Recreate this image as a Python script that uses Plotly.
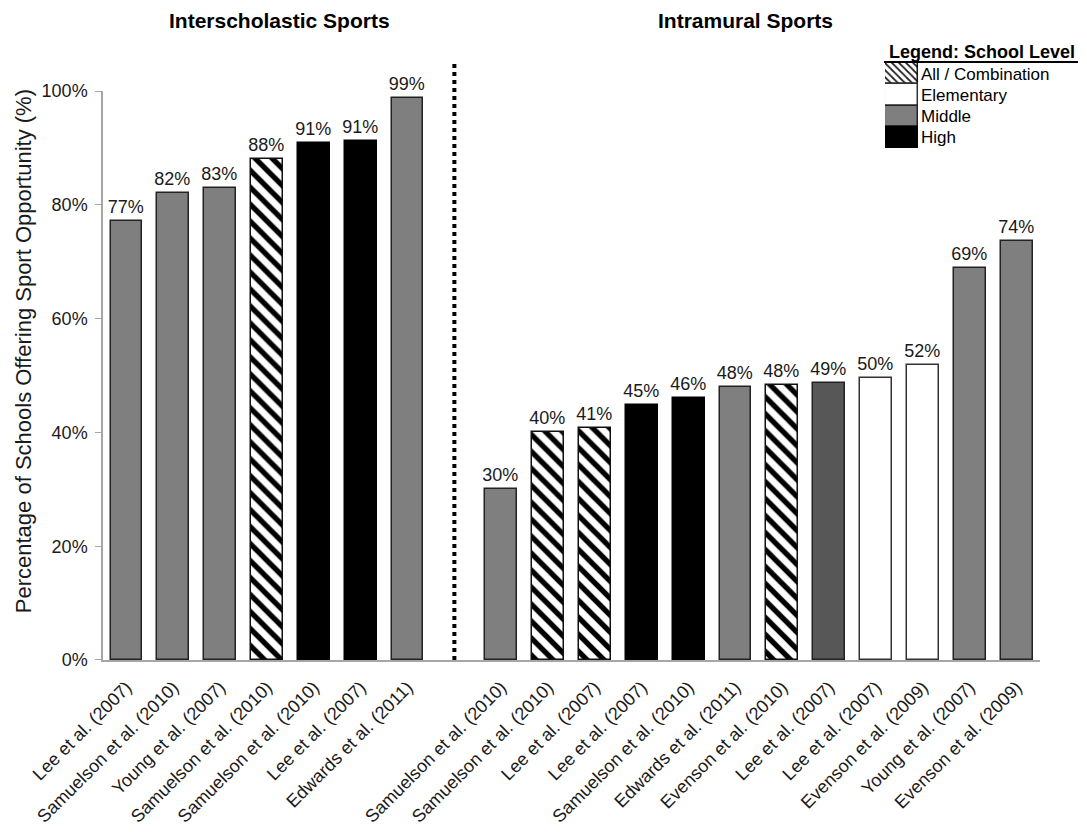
import plotly.graph_objects as go

# Interscholastic sports (left group)
inter_labels = ["Lee et al. (2007)", "Samuelson et al. (2010)", "Young et al. (2007)",
                "Samuelson et al. (2010)", "Samuelson et al. (2010)", "Lee et al. (2007)",
                "Edwards et al. (2011)"]
inter_values = [77.1, 82.1, 83.0, 88.0, 90.9, 91.2, 98.7]
inter_levels = ["Middle", "Middle", "Middle", "All", "High", "High", "Middle"]

# Intramural sports (right group)
intra_labels = ["Samuelson et al. (2010)", "Samuelson et al. (2010)", "Lee et al. (2007)",
                "Lee et al. (2007)", "Samuelson et al. (2010)", "Edwards et al. (2011)",
                "Evenson et al. (2010)", "Lee et al. (2007)", "Lee et al. (2007)",
                "Evenson et al. (2009)", "Young et al. (2007)", "Evenson et al. (2009)"]
intra_values = [30.0, 40.0, 40.8, 44.8, 46.0, 47.9, 48.3, 48.6, 49.5, 51.9, 68.9, 73.7]
intra_levels = ["Middle", "All", "All", "High", "High", "Middle", "All", "HighDark",
                "Elementary", "Elementary", "Middle", "Middle"]

legend_levels = ["All", "Elementary", "Middle", "High"]
legend_names = ["All / Combination", "Elementary", "Middle", "High"]

y_ticks = [0, 20, 40, 60, 80, 100]
y_tick_text = ["0%", "20%", "40%", "60%", "80%", "100%"]

style = {
    "All": dict(color="white", line=dict(color="#111111", width=1.5),
                pattern=dict(shape="\\", fgcolor="black", bgcolor="white", fgopacity=1,
                             size=12, solidity=0.45)),
    "Elementary": dict(color="white", line=dict(color="#333333", width=1.5)),
    "Middle": dict(color="#7f7f7f", line=dict(color="#222222", width=1.5)),
    "High": dict(color="#000000", line=dict(color="#000000", width=1.5)),
    "HighDark": dict(color="#575757", line=dict(color="#222222", width=1.5)),
}

# slot positions: left group, one empty slot for the divider, then right group
n_left = len(inter_labels)
divider_pos = n_left
left_pos = list(range(n_left))
right_pos = [n_left + 1 + i for i in range(len(intra_labels))]

positions = left_pos + right_pos
labels = inter_labels + intra_labels
values = inter_values + intra_values
levels = inter_levels + intra_levels

font_family = "Liberation Sans, Arial, sans-serif"

fig = go.Figure()

for lvl in style:
    xs = [p for p, l in zip(positions, levels) if l == lvl]
    ys = [v for v, l in zip(values, levels) if l == lvl]
    if not xs:
        continue
    fig.add_trace(go.Bar(
        x=xs, y=ys, width=0.68, marker=style[lvl],
        texttemplate="%{y:.0f}%", textposition="outside", cliponaxis=False,
        constraintext="none",
        textfont=dict(size=18, color="#1a1a1a", family=font_family),
        showlegend=False, hoverinfo="skip",
    ))

# legend swatches drawn on a small inset axis
for lvl, name in zip(legend_levels, legend_names):
    st = dict(style[lvl])
    if lvl == "All":
        st["pattern"] = dict(shape="\\", fgcolor="#222222", bgcolor="white", fgopacity=1,
                             size=5, solidity=0.35)
    fig.add_trace(go.Bar(
        x=[1], y=[name], orientation="h", width=1, marker=st,
        xaxis="x2", yaxis="y2", showlegend=False, hoverinfo="skip",
    ))

fig.update_layout(
    width=1087, height=832,
    margin=dict(l=103, r=47, t=40, b=172),
    paper_bgcolor="white", plot_bgcolor="white",
    font=dict(family=font_family, color="#1a1a1a"),
    bargap=0,
    xaxis=dict(
        range=[-0.5, len(positions) + 0.5], tickmode="array",
        tickvals=positions, ticktext=labels, tickangle=-45,
        tickfont=dict(size=18, color="#1a1a1a"), automargin=False,
        ticklabelstandoff=8,
        showline=True, linecolor="#a6a6a6", linewidth=1.5,
        ticks="", showgrid=False, zeroline=False,
    ),
    yaxis=dict(
        domain=[0, 0.9177], range=[0, 100], tickmode="array",
        tickvals=y_ticks, ticktext=y_tick_text, automargin=False,
        tickfont=dict(size=18, color="#1a1a1a"), ticklabelstandoff=4,
        showline=True, linecolor="#a6a6a6", linewidth=1.5,
        ticks="outside", ticklen=6, tickcolor="#a6a6a6",
        showgrid=False, zeroline=False,
    ),
    xaxis2=dict(domain=[0.8346, 0.8698], range=[0, 1], anchor="y2", automargin=False,
                showticklabels=False, showgrid=False, zeroline=False, fixedrange=True),
    yaxis2=dict(domain=[0.8258, 0.9629], anchor="x2", side="right", automargin=False,
                autorange="reversed", showgrid=False, zeroline=False,
                tickfont=dict(size=17, color="#000000"), ticks="", ticklabelstandoff=2),
    shapes=[
        dict(type="line", xref="x", yref="paper", x0=divider_pos, x1=divider_pos,
             y0=0, y1=0.9645, line=dict(color="black", width=4, dash="4px,4px")),
        dict(type="line", xref="paper", yref="paper", x0=0.8335, x1=1.0405,
             y0=0.9645, y1=0.9645, line=dict(color="black", width=2)),
    ],
    annotations=[
        dict(text="Percentage of Schools Offering Sport Opportunity (%)",
             xref="paper", yref="paper", x=-0.0854, y=0.498, textangle=-90,
             xanchor="center", yanchor="middle", showarrow=False,
             font=dict(size=22, color="#1a1a1a")),
        dict(text="<b>Interscholastic Sports</b>", xref="paper", yref="paper",
             x=0.188, y=1.032, xanchor="center", yanchor="middle", showarrow=False,
             font=dict(size=21, color="black")),
        dict(text="<b>Intramural Sports</b>", xref="paper", yref="paper",
             x=0.686, y=1.032, xanchor="center", yanchor="middle", showarrow=False,
             font=dict(size=21, color="black")),
        dict(text="<b>Legend: School Level</b>", xref="paper", yref="paper",
             x=0.938, y=0.9806, xanchor="center", yanchor="middle", showarrow=False,
             font=dict(size=18, color="black")),
    ],
)

fig.write_html("out.html")
